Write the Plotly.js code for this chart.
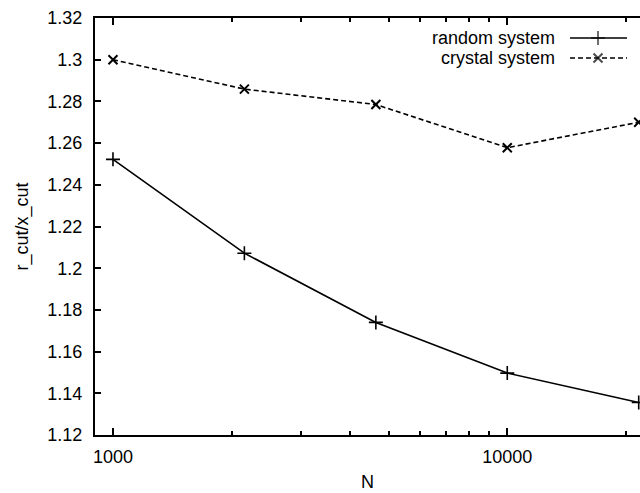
<!DOCTYPE html>
<html><head><meta charset="utf-8">
<script src="https://cdn.plot.ly/plotly-3.0.1.min.js"></script>
<style>html,body{margin:0;padding:0;overflow:hidden;background:#fff}#c{width:640px;height:493px}</style>
</head><body><div id="c"></div>
<script>
const N = [1000, 2154, 4642, 10000, 21544];
const randomSystem = [1.2522, 1.2072, 1.1740, 1.1497, 1.1356];
const crystalSystem = [1.3000, 1.2859, 1.2785, 1.2578, 1.2700];
const seriesNames = ['random system', 'crystal system'];
const yTicks = [1.12, 1.14, 1.16, 1.18, 1.2, 1.22, 1.24, 1.26, 1.28, 1.3, 1.32];
const yTickText = ['1.12','1.14','1.16','1.18','1.2','1.22','1.24','1.26','1.28','1.3','1.32'];
const xMajor = [1000, 10000];
const xMajorText = ['1000', '10000'];
const xMinor = [2000,3000,4000,5000,6000,7000,8000,9000,20000];

const font = {family: 'Liberation Sans, Arial, sans-serif', size: 18, color: '#000'};
const traces = [
  {x: N, y: randomSystem, name: seriesNames[0], mode: 'lines+markers', cliponaxis: false,
   line: {color: '#000', width: 1.6},
   marker: {symbol: 'cross-thin', size: 10, line: {color: '#000', width: 1.6}}},
  {x: N, y: crystalSystem, name: seriesNames[1], mode: 'lines+markers', cliponaxis: false,
   line: {color: '#000', width: 1.6, dash: '5px,3px'},
   marker: {symbol: 'x-thin', size: 9, line: {color: '#000', width: 2}}}
];
// hand-drawn legend (text on the left, sample on the right, as in the original)
const legX0 = 570, legX1 = 627, legXm = 598;
const legRows = [38, 58];
const xp = px => (px - 95) / (640 - 95);
const yp = py => 1 - (py - 18) / (435 - 18);
traces.push({x: [xp(legX0), xp(legXm), xp(legX1)], y: [yp(legRows[0]), yp(legRows[0]), yp(legRows[0])],
  xaxis: 'x2', yaxis: 'y2', mode: 'lines+markers', showlegend: false, hoverinfo: 'skip',
  line: {color: '#000', width: 1.6},
  marker: {symbol: 'cross-thin', size: [0, 10, 0], line: {color: '#000', width: 1.6}}});
traces.push({x: [xp(legX0), xp(legXm), xp(legX1)], y: [yp(legRows[1]), yp(legRows[1]), yp(legRows[1])],
  xaxis: 'x2', yaxis: 'y2', mode: 'lines+markers', showlegend: false, hoverinfo: 'skip',
  line: {color: '#000', width: 1.6, dash: '5px,3px'},
  marker: {symbol: 'x-thin', size: [0, 9, 0], line: {color: '#000', width: 2}}});

const layout = {
  width: 640, height: 493,
  margin: {l: 95, r: 0, t: 18, b: 58},
  paper_bgcolor: '#fff', plot_bgcolor: '#fff',
  font: font,
  showlegend: false,
  xaxis: {type: 'log', range: [2.9544, 4.3366], showgrid: false, zeroline: false,
    showline: true, linecolor: '#000', linewidth: 2, mirror: 'ticks',
    ticks: 'inside', ticklen: 7, tickwidth: 2, tickcolor: '#000',
    tickmode: 'array', tickvals: xMajor, ticktext: xMajorText,
    minor: {tickmode: 'array', tickvals: xMinor, ticks: 'inside', ticklen: 4, tickwidth: 2, tickcolor: '#000', showgrid: false},
    ticklabelstandoff: 4,
    title: {text: 'N', font: font, standoff: 10}},
  yaxis: {range: [1.12, 1.32], showgrid: false, zeroline: false,
    showline: true, linecolor: '#000', linewidth: 2, mirror: false,
    ticks: 'inside', ticklen: 6, tickwidth: 2, tickcolor: '#000',
    tickmode: 'array', tickvals: yTicks, ticktext: yTickText,
    ticklabelstandoff: 7,
    title: {text: 'r_cut/x_cut', font: font, standoff: 14}},
  xaxis2: {range: [0, 1], overlaying: 'x', visible: false, anchor: 'y2'},
  yaxis2: {range: [0, 1], overlaying: 'y', visible: false, anchor: 'x2'},
  annotations: [
    {xref: 'paper', yref: 'paper', x: xp(557), y: yp(legRows[0]), xanchor: 'right', yanchor: 'middle', text: seriesNames[0], showarrow: false, font: font},
    {xref: 'paper', yref: 'paper', x: xp(557), y: yp(legRows[1]), xanchor: 'right', yanchor: 'middle', text: seriesNames[1], showarrow: false, font: font}
  ]
};
Plotly.newPlot('c', traces, layout, {staticPlot: true, displayModeBar: false});
</script></body></html>
